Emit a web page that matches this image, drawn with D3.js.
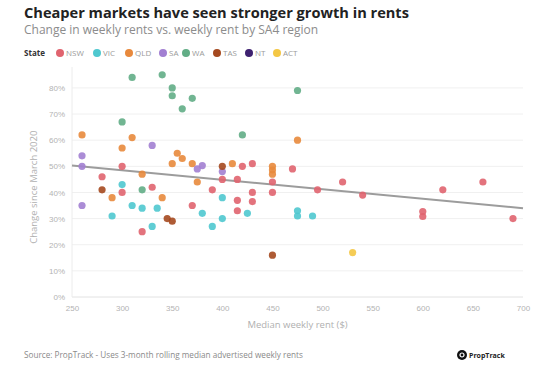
<!DOCTYPE html>
<html>
<head>
<meta charset="utf-8">
<script src="https://cdn.jsdelivr.net/npm/d3@7"></script>
<style>
  body { margin: 0; background: #fff; }
  svg { font-family: "Open Sans", "DejaVu Sans", sans-serif; }
  .tick text { fill: #b3b3b3; font-size: 8px; }
</style>
</head>
<body>
<svg width="554" height="376"></svg>
<script>
// **** Data ****

var states = ['NSW', 'VIC', 'QLD', 'SA', 'WA', 'TAS', 'NT', 'ACT'];
var stateColors = ['#e0646f', '#4fc8cf', '#e8893c', '#a27fd2', '#62ad86', '#a5491f', '#3e2170', '#f4c744'];

var nswPoints = [[300,50],[280,46],[300,40],[330,42],[370,35],[320,25],[390,41],[400,45],[415,45],[420,50],
    [430,51],[430,40],[415,37],[430,36.5],[415,33],[450,44],[450,40],[470,49],[495,41],[520,44],[540,39],
    [600,32.7],[600,30.8],[620,41],[660,44],[690,30]];
var vicPoints = [[300,43],[310,35],[320,34],[335,34],[290,31],[330,27],[380,32],[390,27],[400,38],[400,30],
    [425,32],[475,33],[475,31],[490,31]];
var qldPoints = [[260,62],[310,61],[300,57],[355,55],[360,53],[350,51],[370,51],[410,51],[320,47],[375,44],
    [290,38],[340,38],[450,50],[450,48.6],[450,47],[475,60]];
var saPoints = [[260,54],[260,50],[260,35],[330,58],[380,50.3],[375,49],[400,48]];
var waPoints = [[310,84],[340,85],[350,80],[350,77],[370,76],[360,72],[300,67],[420,62],[475,79],[320,41]];
var tasPoints = [[280,41],[345,30],[350,29],[400,50],[450,16]];
var ntPoints = [];
var actPoints = [[530,17]];

var trendRent = [250, 700];
var trendGrowth = [50.3, 34];

var xTicks = [250, 300, 350, 400, 450, 500, 550, 600, 650, 700];
var yTicks = [0, 10, 20, 30, 40, 50, 60, 70, 80];

// **** Scales ****

var xScale = d3.scaleLinear().domain([250, 700]).range([72, 523]);
var yScale = d3.scaleLinear().domain([0, 88]).range([297, 67]);

var svg = d3.select('svg');

// titles
svg.append('text')
    .text('Cheaper markets have seen stronger growth in rents')
    .attr('x', 24).attr('y', 18)
    .style('font-size', '14.6px').style('font-weight', 'bold').style('fill', '#222');

svg.append('text')
    .text('Change in weekly rents vs. weekly rent by SA4 region')
    .attr('x', 24).attr('y', 34)
    .style('font-size', '12px').style('fill', '#8c8c8c');

// legend
var legend = svg.append('g').attr('transform', 'translate(24,53)');
legend.append('text').text('State')
    .attr('y', 3).style('font-size', '8px').style('font-weight', 'bold').style('fill', '#333');

var legendX = [36, 73, 105, 139, 162, 193, 225, 253];
states.forEach(function(s, i) {
    var g = legend.append('g').attr('transform', 'translate(' + legendX[i] + ',0)');
    g.append('circle').attr('r', 4).style('fill', stateColors[i]);
    g.append('text').text(s).attr('x', 6).attr('y', 3)
        .style('font-size', '8px').style('fill', '#9a9a9a');
});

// gridlines
svg.append('g').attr('class', 'grid')
    .selectAll('line').data(yTicks).enter().append('line')
    .attr('x1', xScale(250)).attr('x2', xScale(700))
    .attr('y1', function(d) { return yScale(d); })
    .attr('y2', function(d) { return yScale(d); })
    .style('stroke', function(d) { return d === 0 ? '#e2e2e2' : '#f0f0f0'; })
    .style('stroke-width', 1);

svg.append('line')
    .attr('x1', xScale(250)).attr('x2', xScale(250))
    .attr('y1', yScale(88)).attr('y2', yScale(0))
    .style('stroke', '#ececec');

// axes
svg.append('g').attr('class', 'x axis')
    .attr('transform', 'translate(0,' + (yScale(0) + 2) + ')')
    .call(d3.axisBottom(xScale).tickValues(xTicks).tickSize(0).tickPadding(6))
    .call(function(g) { g.select('.domain').remove(); });

svg.append('g').attr('class', 'y axis')
    .attr('transform', 'translate(' + (xScale(250) - 3) + ',0)')
    .call(d3.axisLeft(yScale).tickValues(yTicks).tickSize(0).tickPadding(4)
        .tickFormat(function(d) { return d + '%'; }))
    .call(function(g) { g.select('.domain').remove(); });

svg.append('text')
    .text('Median weekly rent ($)')
    .attr('text-anchor', 'middle')
    .attr('transform', 'translate(' + xScale(475) + ',328)')
    .style('font-size', '9.5px').style('fill', '#b0b0b0');

svg.append('text')
    .text('Change since March 2020')
    .attr('text-anchor', 'middle')
    .attr('transform', 'translate(37,' + yScale(42) + ') rotate(-90)')
    .style('font-size', '9.5px').style('fill', '#b0b0b0');

// trend line
svg.append('line')
    .attr('x1', xScale(trendRent[0])).attr('y1', yScale(trendGrowth[0]))
    .attr('x2', xScale(trendRent[1])).attr('y2', yScale(trendGrowth[1]))
    .style('stroke', '#9c9c9c').style('stroke-width', 2);

// points
var allSeries = [nswPoints, vicPoints, qldPoints, saPoints, waPoints, tasPoints, ntPoints, actPoints];
allSeries.forEach(function(pts, i) {
    svg.append('g').selectAll('circle').data(pts).enter().append('circle')
        .attr('cx', function(d) { return xScale(d[0]); })
        .attr('cy', function(d) { return yScale(d[1]); })
        .attr('r', 3.6)
        .style('fill', stateColors[i])
        .style('opacity', 0.9);
});

// source + logo
svg.append('text')
    .text('Source: PropTrack - Uses 3-month rolling median advertised weekly rents')
    .attr('x', 24).attr('y', 358)
    .style('font-size', '8.2px').style('fill', '#8a8a8a');

var logo = svg.append('g').attr('transform', 'translate(462,355)');
logo.append('circle').attr('r', 5).style('fill', '#111');
logo.append('circle').attr('r', 2).style('fill', 'none').style('stroke', '#fff').style('stroke-width', 1.2);
logo.append('text').text('PropTrack').attr('x', 7).attr('y', 2.5)
    .style('font-size', '7px').style('font-weight', 'bold').style('fill', '#222');
</script>
</body>
</html>
